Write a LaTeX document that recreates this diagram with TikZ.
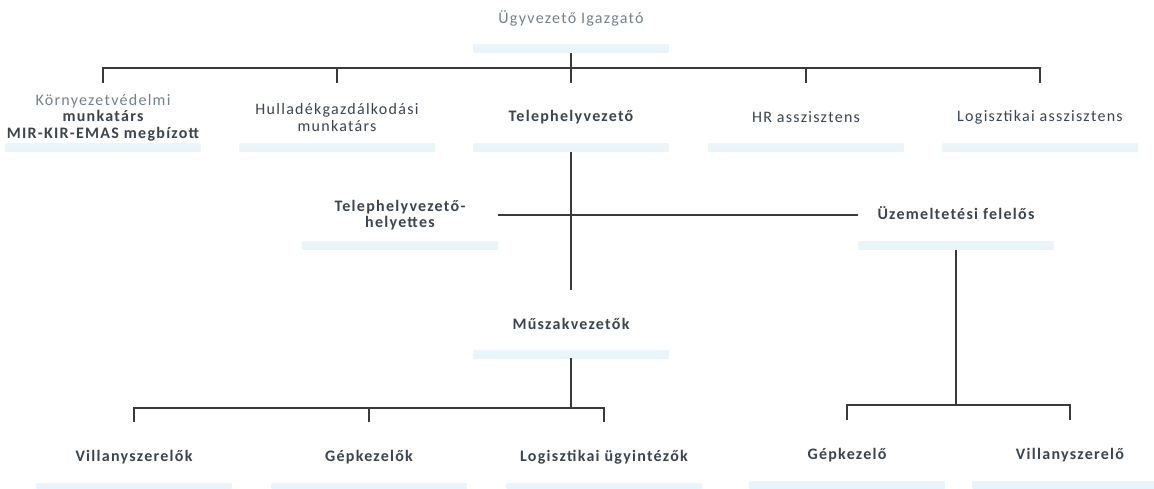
\documentclass[tikz,border=0pt]{standalone}
\usepackage{fontspec}
\setmainfont{Carlito}[LetterSpace=8]
\definecolor{ink}{HTML}{3A4550}
\definecolor{soft}{HTML}{72828C}
\definecolor{barcol}{HTML}{E8F4FB}
\definecolor{wire}{HTML}{3A3A3A}
\begin{document}
\begin{tikzpicture}[x=1pt,y=-1pt,
  unit/.style={minimum width=195pt, minimum height=#1, inner sep=0pt,
    align=center, text=ink, font=\fontsize{16}{16.5}\selectfont\bfseries,
    path picture={\shade[top color=white, bottom color=barcol]
      ([yshift=8pt]path picture bounding box.south west)
      rectangle (path picture bounding box.south east);}},
  unit/.default=69pt,
  light/.style={font=\fontsize{16}{16.5}\selectfont\mdseries},
  wire/.style={draw=wire, line width=1.1pt}]
\fill[white] (0,0) rectangle (1154,489);
\useasboundingbox (0,0) rectangle (1154,489);

% director
\node[unit=70pt, light, text=soft] (ceo) at (571,18) {Ügyvezető Igazgató};

% first level
\node[unit] (k1) at (103,117.5) {\textcolor{soft}{\mdseries Környezetvédelmi}\\munkatárs\\MIR-KIR-EMAS megbízott};
\node[unit, light] (k2) at (337,117.5) {Hulladékgazdálkodási\\munkatárs};
\node[unit] (k3) at (571,117.5) {Telephelyvezető};
\node[unit, light] (k4) at (806,117.5) {HR asszisztens};
\node[unit, light] (k5) at (1040,117.5) {Logisztikai asszisztens};

% second level
\node[unit=70pt] (hely) at (400,215) {Telephelyvezető-\\helyettes};
\node[unit=74pt] (uzem) at (956,213) {Üzemeltetési felelős};
\node[unit=68pt] (musz) at (571,324) {Műszakvezetők};

% bottom level
\node[unit] (b1) at (134,457) {Villanyszerelők};
\node[unit] (b2) at (369,457) {Gépkezelők};
\node[unit] (b3) at (604,457) {Logisztikai ügyintézők};
\node[unit] (c1) at (847,455) {Gépkezelő};
\node[unit] (c2) at (1070,455) {Villanyszerelő};

% buses
\coordinate (bus1) at (571,68);
\coordinate (bus2) at (571,408);
\coordinate (bus3) at (956,405);

\draw[wire] (ceo.south) -- (bus1);
\draw[wire] (k1.north) |- (bus1) -| (k5.north);
\foreach \n in {k2,k3,k4} \draw[wire] (\n.north) -- (\n.north |- bus1);

\draw[wire] (k3.south) -- (musz.north);
\draw[wire] (hely.east) -- (hely.east -| uzem.west);

\draw[wire] (musz.south) -- (bus2);
\draw[wire] (b1.north) |- (bus2) -| (b3.north);
\draw[wire] (b2.north) -- (b2.north |- bus2);

\draw[wire] (uzem.south) -- (bus3);
\draw[wire] (c1.north) |- (bus3) -| (c2.north);
\end{tikzpicture}
\end{document}
